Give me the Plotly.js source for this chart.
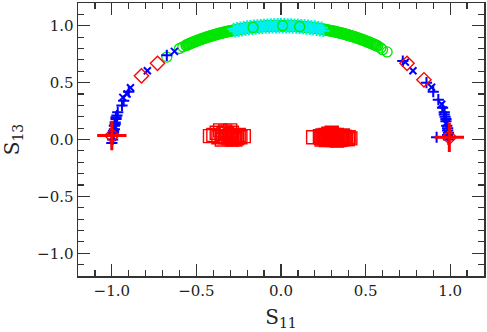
<!DOCTYPE html>
<html>
<head>
<meta charset="utf-8">
<script src="https://cdn.plot.ly/plotly-3.0.1.min.js"></script>
<style>html,body{margin:0;padding:0;background:#fff;}#chart{width:487px;height:332px;}</style>
</head>
<body>
<div id="chart"></div>
<script>
// ---- data ----
const greenX = [-0.56,-0.55,-0.54,-0.53,-0.52,-0.51,-0.50,-0.49,-0.48,-0.47,-0.46,-0.45,-0.44,-0.43,-0.42,-0.41,-0.40,-0.39,-0.38,-0.37,-0.36,-0.35,-0.34,-0.33,-0.32,-0.31,-0.30,-0.29,-0.28,-0.27,-0.26,-0.25,-0.24,-0.23,-0.22,-0.21,-0.20,-0.19,-0.18,-0.17,-0.16,-0.15,-0.14,-0.13,-0.12,-0.11,-0.10,-0.09,-0.08,-0.07,-0.06,-0.05,-0.04,-0.03,-0.02,-0.01,
  0.00,0.01,0.02,0.03,0.04,0.05,0.06,0.07,0.08,0.09,0.10,0.11,0.12,0.13,0.14,0.15,0.16,0.17,0.18,0.19,0.20,0.21,0.22,0.23,0.24,0.25,0.26,0.27,0.28,0.29,0.30,0.31,0.32,0.33,0.34,0.35,0.36,0.37,0.38,0.39,0.40,0.41,0.42,0.43,0.44,0.45,0.46,0.47,0.48,0.49,0.50,0.51,0.52,0.53,0.54,0.55,0.56,0.57];
const greenY = [0.828,0.835,0.842,0.848,0.854,0.860,0.866,0.872,0.877,0.883,0.888,0.893,0.898,0.903,0.908,0.912,0.917,0.921,0.925,0.929,0.933,0.937,0.940,0.944,0.947,0.951,0.954,0.957,0.960,0.963,0.966,0.968,0.971,0.973,0.975,0.978,0.980,0.982,0.984,0.985,0.987,0.989,0.990,0.992,0.993,0.994,0.995,0.996,0.997,0.998,0.998,0.999,0.999,1.000,1.000,1.000,
  1.000,1.000,1.000,1.000,0.999,0.999,0.998,0.998,0.997,0.996,0.995,0.994,0.993,0.992,0.990,0.989,0.987,0.985,0.984,0.982,0.980,0.978,0.975,0.973,0.971,0.968,0.966,0.963,0.960,0.957,0.954,0.951,0.947,0.944,0.940,0.937,0.933,0.929,0.925,0.921,0.917,0.912,0.908,0.903,0.898,0.893,0.888,0.883,0.877,0.872,0.866,0.860,0.854,0.848,0.842,0.835,0.828,0.822];

const cyanX = [-0.28,-0.27,-0.26,-0.25,-0.24,-0.23,-0.22,-0.21,-0.20,-0.19,-0.18,-0.17,-0.16,-0.15,-0.14,-0.13,-0.12,-0.11,-0.10,-0.09,-0.08,-0.07,-0.06,-0.05,-0.04,-0.03,-0.02,-0.01,
  0.00,0.01,0.02,0.03,0.04,0.05,0.06,0.07,0.08,0.09,0.10,0.11,0.12,0.13,0.14,0.15,0.16,0.17,0.18,0.19,0.20,0.21,0.22,0.23,0.24,0.25];
const cyanY = [0.972,0.951,0.978,0.956,0.983,0.961,0.987,0.966,0.992,0.970,0.996,0.973,0.999,0.977,1.002,0.980,1.005,0.982,1.007,0.984,1.009,0.986,1.010,0.987,1.011,0.988,1.012,0.988,
  1.012,0.988,1.012,0.988,1.011,0.987,1.010,0.986,1.009,0.984,1.007,0.982,1.005,0.980,1.002,0.977,0.999,0.973,0.996,0.970,0.992,0.966,0.987,0.961,0.983,0.956];

const greenExtraX = [-0.675,-0.60,-0.58,-0.165,0.01,0.11,0.59,0.60,0.627];
const greenExtraY = [0.725,0.80,0.815,0.985,1.0,0.992,0.805,0.79,0.77];

const bluePlusX = [-1.0,-0.995,-0.99,-0.99,-0.985,-0.985,-0.98,-0.975,-0.97,-0.965,-0.995,-0.99,-0.98,-0.975,-0.94,-0.93,-0.90,-0.675,
  0.99,0.985,0.985,0.98,0.975,0.97,0.965,0.955,0.99,0.985,0.975,0.965,0.93,0.90,0.92,0.72,0.86];
const bluePlusY = [-0.03,0.0,0.03,0.06,0.09,0.12,0.15,0.18,0.21,0.24,0.045,0.075,0.135,0.195,0.30,0.34,0.42,0.74,
  0.0,0.04,0.08,0.12,0.16,0.20,0.24,0.28,0.06,0.10,0.18,0.22,0.35,0.42,0.02,0.69,0.50];
const blueXX = [-0.995,-0.985,-0.98,-0.975,-0.935,-0.91,-0.89,-0.79,-0.63,
  0.98,0.975,0.96,0.95,0.89,0.78,0.735];
const blueXY = [0.02,0.05,0.11,0.16,0.37,0.40,0.455,0.605,0.775,
  0.06,0.14,0.26,0.31,0.46,0.605,0.68];

const redSqX = [-0.42,-0.40,-0.38,-0.36,-0.35,-0.33,-0.32,-0.31,-0.30,-0.29,-0.28,-0.27,-0.26,-0.25,-0.24,-0.22,-0.34,-0.37,-0.29,-0.33,-0.30,-0.27,-0.35,-0.31,-0.28,-0.26,
  0.19,0.23,0.25,0.26,0.27,0.28,0.29,0.30,0.31,0.32,0.33,0.34,0.35,0.36,0.37,0.38,0.40,0.41,0.30,0.24,0.28,0.33,0.36,0.26,0.31,
  0.235,0.255,0.275,0.295,0.315,0.335,0.355,0.375,0.395,0.245,0.265,0.285,0.305,0.325,0.345,0.365,0.385];
const redSqY = [0.03,0.04,0.06,0.08,0.03,0.02,0.05,0.01,0.04,0.06,0.02,0.03,0.01,0.04,0.02,0.03,0.05,0.02,0.00,0.07,0.08,0.00,0.00,0.03,0.01,0.02,
  0.02,0.03,0.01,0.04,0.02,0.00,0.03,0.05,0.01,0.02,0.04,0.00,0.02,0.03,0.01,0.02,0.02,0.01,0.06,0.00,0.05,-0.01,0.00,0.02,0.04,
  0.015,0.025,0.005,0.015,0.025,0.005,0.015,0.025,0.005,0.035,-0.005,0.035,-0.005,0.035,-0.005,0.035,0.005];

const redDiamondX = [-0.825,-0.73,0.745,0.845,-1.0,0.995];
const redDiamondY = [0.56,0.67,0.67,0.525,0.035,0.02];
const redStarX = [-1.0,0.995];
const redStarY = [0.035,0.02];

const xTitle = 'S<sub>11</sub>';
const yTitle = 'S<sub>13</sub>';

// ---- plot ----
const GREEN = '#00e600', CYAN = '#00f0f0', BLUE = '#0000ff', RED = '#ff0000';
const traces = [
  {x: greenX, y: greenY, mode: 'markers', type: 'scatter',
   marker: {symbol: 'circle-open', size: 10, color: GREEN, line: {width: 2, color: GREEN}}},
  {x: cyanX, y: cyanY, mode: 'markers', type: 'scatter',
   marker: {symbol: 'cross-thin-open', size: 9, color: CYAN, line: {width: 2, color: CYAN}}},
  {x: greenExtraX, y: greenExtraY, mode: 'markers', type: 'scatter',
   marker: {symbol: 'circle-open', size: 10, color: GREEN, line: {width: 1.3, color: GREEN}}},
  {x: bluePlusX, y: bluePlusY, mode: 'markers', type: 'scatter',
   marker: {symbol: 'cross-thin-open', size: 8, color: BLUE, line: {width: 2, color: BLUE}}},
  {x: blueXX, y: blueXY, mode: 'markers', type: 'scatter',
   marker: {symbol: 'x-thin-open', size: 7, color: BLUE, line: {width: 2, color: BLUE}}},
  {x: redSqX, y: redSqY, mode: 'markers', type: 'scatter',
   marker: {symbol: 'square-open', size: 13, color: RED, line: {width: 1.4, color: RED}}},
  {x: redDiamondX, y: redDiamondY, mode: 'markers', type: 'scatter',
   marker: {symbol: 'diamond-open', size: 11, color: RED, line: {width: 1.4, color: RED}}},
  {x: redStarX, y: redStarY, mode: 'markers', type: 'scatter',
   marker: {symbol: 'cross-thin-open', size: 21, color: RED, line: {width: 3, color: RED}}}
];

const tickCol = '#333';
const axisCommon = {
  range: [-1.2, 1.2], tick0: 0, dtick: 0.5, tickformat: '.1f',
  ticks: 'inside', ticklen: 12, tickwidth: 1.3, tickcolor: tickCol,
  showline: true, linecolor: tickCol, linewidth: 1.5, mirror: 'allticks',
  showgrid: false, zeroline: false,
  minor: {dtick: 0.1, ticks: 'inside', ticklen: 6, tickwidth: 1.2, tickcolor: tickCol, showgrid: false},
  tickfont: {family: 'DejaVu Serif', size: 15, color: '#222'}
};
const mirrorAxis = {
  range: [-1.2, 1.2], tick0: 0, dtick: 0.5,
  ticks: 'inside', ticklen: 12, tickwidth: 1.3, tickcolor: tickCol,
  showline: false, showgrid: false, zeroline: false, showticklabels: false,
  minor: {dtick: 0.1, ticks: 'inside', ticklen: 6, tickwidth: 1.2, tickcolor: tickCol, showgrid: false}
};

const layout = {
  width: 487, height: 332,
  margin: {l: 78, r: 3, t: 3, b: 56},
  paper_bgcolor: '#fff', plot_bgcolor: '#fff',
  showlegend: false,
  font: {family: 'DejaVu Serif', color: '#222'},
  xaxis: Object.assign({}, axisCommon, {title: {text: xTitle, font: {family: 'DejaVu Serif', size: 20, color: '#222'}, standoff: 11}}),
  yaxis: Object.assign({}, axisCommon, {title: {text: yTitle, font: {family: 'DejaVu Serif', size: 20, color: '#222'}, standoff: 15}}),
  xaxis2: Object.assign({}, mirrorAxis, {overlaying: 'x', side: 'top', anchor: 'y'}),
  yaxis2: Object.assign({}, mirrorAxis, {overlaying: 'y', side: 'right', anchor: 'x'})
};

Plotly.newPlot('chart', traces, layout, {staticPlot: true, displayModeBar: false});
</script>
</body>
</html>
